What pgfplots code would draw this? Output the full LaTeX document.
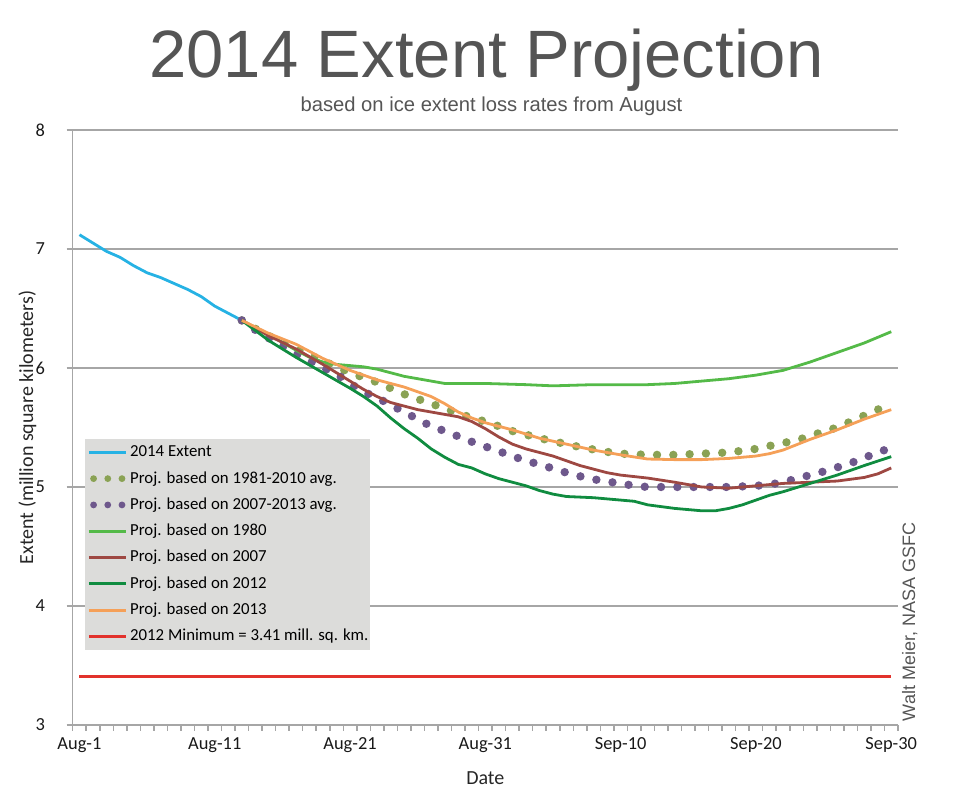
\documentclass[border=0pt]{standalone}
\usepackage{fontspec}
\setmainfont{Carlito}
\newfontfamily\arial{Liberation Sans}
\usepackage{pgfplots}
\pgfplotsset{compat=1.18}
\definecolor{cExt}{RGB}{38,178,228}
\definecolor{cAvgA}{RGB}{138,162,84}
\definecolor{cAvgB}{RGB}{110,88,140}
\definecolor{cA}{RGB}{84,186,72}
\definecolor{cB}{RGB}{158,72,66}
\definecolor{cC}{RGB}{16,140,64}
\definecolor{cD}{RGB}{245,160,88}
\definecolor{cMin}{RGB}{226,50,44}
\definecolor{cGrid}{RGB}{166,166,166}
\definecolor{cTitle}{RGB}{85,85,85}
\definecolor{cLeg}{RGB}{220,220,218}
\pgfplotsset{dotleg/.style={legend image code/.code={\draw[##1, line width=3.4pt, dash pattern=on 0pt off 7.1pt] (2.4pt,0pt) -- (17pt,0pt);}}}
\begin{document}
\begin{tikzpicture}
\useasboundingbox (0,0) rectangle (480pt,401pt);
\begin{axis}[
  at={(36.35pt,38.5pt)}, anchor=south west,
  scale only axis, width=412.65pt, height=297.5pt,
  xmin=-0.5, xmax=60.5, ymin=3, ymax=8,
  axis x line*=bottom, axis y line*=left,
  axis line style={cGrid, line width=0.75pt},
  every tick/.style={cGrid, line width=0.75pt},
  tick align=outside, major tick length=3pt,
  xtick={-0.5,0.5,...,60.5}, xticklabels={},
  extra x ticks={0,10,20,30,40,50,60},
  extra x tick labels={Aug-1,Aug-11,Aug-21,Aug-31,Sep-10,Sep-20,Sep-30},
  extra x tick style={major tick length=0pt, xticklabel style={yshift=-3pt}},
  ytick={3,4,5,6,7,8},
  ymajorgrids, major grid style={cGrid, line width=0.75pt},
  /pgf/number format/assume math mode=true,
  ticklabel style={font=\fontsize{9.2}{10}\selectfont, text=black!90},
  yticklabel style={xshift=-7.3pt},
  xlabel={Date}, ylabel={Extent (million square kilometers)},
  label style={font=\fontsize{10}{12}\selectfont, text=black!85},
  xlabel style={at={(axis description cs:0.5,-0.0992)}, anchor=base},
  ylabel style={at={(axis description cs:-0.0481,0.5)}, anchor=base},
  legend image code/.code={\draw[#1] (0pt,0pt) -- (18.8pt,0pt);},
  legend cell align=left,
  legend style={at={(axis description cs:0.0149,0.4818)}, anchor=north west,
    fill=cLeg, draw=none, inner xsep=1pt, inner ysep=3pt, row sep=5.55pt,
    font=\fontsize{8.4}{9.6}\selectfont,
    nodes={inner sep=0pt, text height=6pt, text depth=1.6pt},
    /tikz/every odd column/.append style={column sep=1.2pt}},
]
\addplot[cExt, line width=1.4pt, line join=round] coordinates {
(0,7.12)(1,7.05)(2,6.98)(3,6.93)(4,6.86)(5,6.80)(6,6.76)(7,6.71)(8,6.66)(9,6.60)(10,6.52)(11,6.46)(12,6.40)};
\addlegendentry{2014 Extent}
\addplot[cAvgA, line width=4.2pt, line cap=round, dash pattern=on 0pt off 8.15pt, dotleg] coordinates {
(12,6.40)(13,6.33)(14,6.27)(15,6.21)(16,6.16)(17,6.11)(18,6.06)(19,6.01)(20,5.96)(21,5.92)(22,5.88)(23,5.83)(24,5.78)(25,5.74)(26,5.70)(27,5.66)(28,5.62)(29,5.58)(30,5.55)(31,5.51)(32,5.47)(33,5.44)(34,5.41)(35,5.385)(36,5.36)(37,5.335)(38,5.315)(39,5.295)(40,5.28)(42,5.27)(44,5.27)(46,5.28)(48,5.29)(50,5.32)(51,5.345)(52,5.37)(53,5.39)(54,5.43)(55,5.465)(56,5.50)(57,5.55)(58,5.60)(59,5.65)(60,5.70)};
\addlegendentry{Proj. based on 1981-2010 avg.}
\addplot[cAvgB, line width=4.2pt, line cap=round, dash pattern=on 0pt off 8.15pt, dotleg] coordinates {
(12,6.40)(13,6.32)(14,6.25)(15,6.19)(16,6.12)(17,6.06)(18,6.00)(19,5.95)(20,5.87)(21,5.80)(22,5.75)(23,5.69)(24,5.63)(25,5.57)(26,5.51)(27,5.47)(28,5.425)(29,5.38)(30,5.34)(31,5.30)(32,5.26)(33,5.22)(34,5.19)(35,5.155)(36,5.12)(37,5.09)(38,5.065)(39,5.045)(40,5.03)(41,5.01)(42,5.00)(44,5.00)(46,5.00)(48,5.00)(50,5.01)(51,5.02)(52,5.04)(53,5.07)(54,5.10)(55,5.13)(56,5.165)(57,5.20)(58,5.245)(59,5.29)(60,5.33)};
\addlegendentry{Proj. based on 2007-2013 avg.}
\addplot[cA, line width=1.4pt, line join=round] coordinates {
(12,6.40)(14,6.28)(16,6.15)(17,6.09)(18,6.05)(19,6.03)(20,6.02)(21,6.01)(22,5.99)(23,5.96)(24,5.93)(25,5.91)(26,5.89)(27,5.87)(30,5.87)(33,5.86)(35,5.85)(38,5.86)(40,5.86)(42,5.86)(44,5.87)(46,5.89)(48,5.91)(50,5.94)(52,5.98)(54,6.05)(56,6.13)(58,6.21)(60,6.305)};
\addlegendentry{Proj. based on 1980}
\addplot[cB, line width=1.4pt, line join=round] coordinates {
(12,6.40)(14,6.27)(16,6.16)(18,6.03)(20,5.89)(21,5.82)(22,5.76)(23,5.71)(24,5.68)(25,5.65)(26,5.63)(27,5.61)(28,5.59)(29,5.55)(30,5.49)(31,5.42)(32,5.36)(33,5.32)(34,5.29)(35,5.26)(36,5.22)(37,5.18)(38,5.15)(39,5.12)(40,5.10)(42,5.075)(44,5.04)(46,5.00)(48,4.99)(50,5.01)(52,5.03)(54,5.04)(56,5.05)(58,5.08)(59,5.11)(60,5.16)};
\addlegendentry{Proj. based on 2007}
\addplot[cC, line width=1.4pt, line join=round] coordinates {
(12,6.40)(14,6.23)(16,6.09)(18,5.96)(20,5.83)(21,5.76)(22,5.68)(23,5.58)(24,5.49)(25,5.41)(26,5.32)(27,5.25)(28,5.19)(29,5.16)(30,5.11)(31,5.07)(32,5.04)(33,5.01)(34,4.97)(35,4.94)(36,4.92)(38,4.91)(40,4.89)(41,4.88)(42,4.85)(44,4.82)(46,4.80)(47,4.80)(48,4.82)(49,4.85)(50,4.89)(51,4.93)(52,4.96)(54,5.03)(56,5.10)(58,5.18)(60,5.255)};
\addlegendentry{Proj. based on 2012}
\addplot[cD, line width=1.4pt, line join=round] coordinates {
(12,6.40)(14,6.29)(16,6.20)(18,6.08)(20,5.98)(22,5.90)(24,5.84)(26,5.76)(27,5.70)(28,5.63)(29,5.58)(30,5.54)(31,5.51)(32,5.48)(34,5.41)(36,5.36)(38,5.31)(40,5.27)(42,5.235)(44,5.23)(46,5.23)(48,5.24)(50,5.26)(51,5.28)(52,5.31)(54,5.40)(56,5.48)(58,5.57)(60,5.65)};
\addlegendentry{Proj. based on 2013}
\addplot[cMin, line width=1.4pt] coordinates {(0,3.41)(60,3.41)};
\addlegendentry{2012 Minimum = 3.41 mill. sq. km.}
\end{axis}
\node[anchor=base, inner sep=0pt, text=cTitle, font=\arial\fontsize{33.5}{40}\selectfont] at (243.25pt,362pt) {2014 Extent Projection};
\node[anchor=base, inner sep=0pt, text=cTitle, font=\arial\fontsize{10.1}{12}\selectfont] at (245.75pt,345pt) {based on ice extent loss rates from August};
\node[anchor=base, rotate=90, inner sep=0pt, text=cTitle, font=\arial\fontsize{9}{11}\selectfont] at (457.5pt,90pt) {Walt Meier, NASA GSFC};
\end{tikzpicture}
\end{document}
